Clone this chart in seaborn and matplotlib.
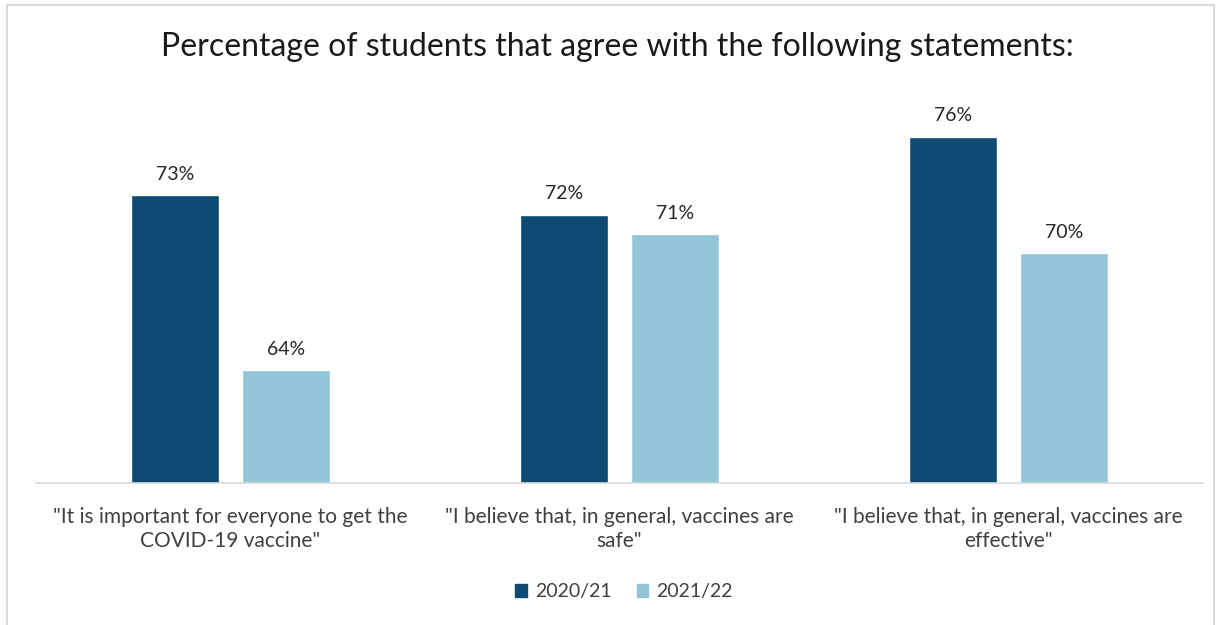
import matplotlib
matplotlib.use("Agg")
import matplotlib.pyplot as plt
import seaborn as sns
import pandas as pd
from matplotlib.patches import Rectangle

categories = [
    "\"It is important for everyone to get the\nCOVID-19 vaccine\"",
    "\"I believe that, in general, vaccines are\nsafe\"",
    "\"I believe that, in general, vaccines are\neffective\"",
]
series_names = ["2020/21", "2021/22"]
values_2020 = [73, 72, 76]
values_2021 = [64, 71, 70]
colors = ["#0E4A72", "#93C5D9"]
title = "Percentage of students that agree with the following statements:"

df = pd.DataFrame({
    "category": categories * 2,
    "year": [series_names[0]] * 3 + [series_names[1]] * 3,
    "value": values_2020 + values_2021,
})

sns.set_theme(style="white")
plt.rcParams["font.family"] = ["Lato", "DejaVu Sans"]

W, H = 1221, 625
fig = plt.figure(figsize=(W / 100, H / 100), dpi=100)
left, right, bottom_px, top_px = 36, 1203, 483, 60
ax = fig.add_axes([left / W, 1 - bottom_px / H, (right - left) / W, (bottom_px - top_px) / H])

sns.barplot(data=df, x="category", y="value", hue="year", palette=colors,
            width=0.57, gap=0.21, ax=ax, saturation=1, legend=False)

ymin = 58.2
ax.set_ylim(ymin, ymin + (bottom_px - top_px) / 19.45)
ax.set_xlim(-0.5, 2.5)

for container in ax.containers:
    ax.bar_label(container, labels=[f"{v:.0f}%" for v in container.datavalues],
                 padding=9, fontsize=14, color="#262626")

for s in ["top", "right", "left"]:
    ax.spines[s].set_visible(False)
ax.spines["bottom"].set_color("#D9D9D9")
ax.spines["bottom"].set_linewidth(1.2)
ax.set_yticks([])
ax.set_xlabel("")
ax.set_ylabel("")
ax.tick_params(axis="x", length=0, pad=17, labelsize=15, labelcolor="#404040")
for lbl in ax.get_xticklabels():
    lbl.set_linespacing(1.3)

fig.text(617 / W, 1 - 47 / H, title, ha="center", va="center", fontsize=23, color="#1a1a1a")

handles = [Rectangle((0, 0), 1, 1, color=c) for c in colors]
fig.legend(handles, series_names, loc="center", bbox_to_anchor=(624 / W, 1 - 592 / H),
           ncol=2, frameon=False, fontsize=14, handlelength=0.6, handleheight=0.6,
           handletextpad=0.4, columnspacing=1.3, labelcolor="#404040")

fig.patches.append(Rectangle((7 / W, -0.01), (1214 - 7) / W, 1 - 5 / H + 0.01,
                             transform=fig.transFigure, fill=False,
                             edgecolor="#D9D9D9", linewidth=1.5))

fig.savefig("out.png", dpi=100)
